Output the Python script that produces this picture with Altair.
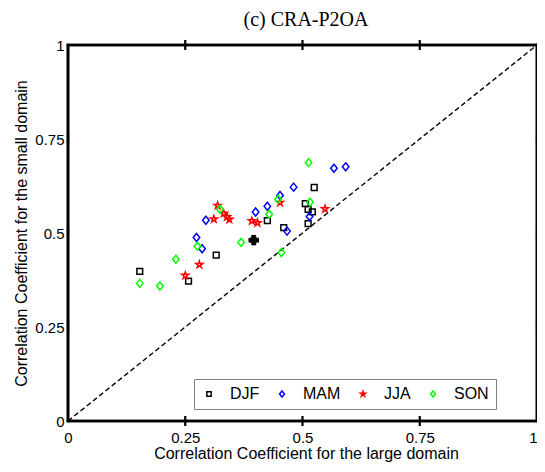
import altair as alt
import pandas as pd

seasons = ["DJF", "MAM", "JJA", "SON"]
colors = ["#000000", "#0000FF", "#FF0000", "#00FF00"]

djf_x = [0.153, 0.257, 0.316, 0.425, 0.525, 0.506, 0.512, 0.521, 0.512, 0.460]
djf_y = [0.398, 0.372, 0.441, 0.533, 0.621, 0.578, 0.563, 0.556, 0.525, 0.514]
mam_x = [0.274, 0.286, 0.294, 0.400, 0.425, 0.452, 0.481, 0.567, 0.592, 0.515, 0.467]
mam_y = [0.488, 0.458, 0.534, 0.556, 0.571, 0.600, 0.622, 0.672, 0.676, 0.544, 0.505]
jja_x = [0.250, 0.280, 0.311, 0.319, 0.332, 0.339, 0.344, 0.392, 0.404, 0.452, 0.548]
jja_y = [0.387, 0.416, 0.537, 0.573, 0.552, 0.543, 0.536, 0.532, 0.527, 0.581, 0.564]
son_x = [0.153, 0.196, 0.230, 0.276, 0.324, 0.369, 0.429, 0.448, 0.513, 0.516, 0.455]
son_y = [0.366, 0.359, 0.430, 0.465, 0.563, 0.475, 0.550, 0.590, 0.687, 0.582, 0.448]

mean_x = [0.396]
mean_y = [0.481]

diag_x = [0, 1]
diag_y = [0, 1]

tick_values = [0, 0.25, 0.5, 0.75, 1]
inner_ticks = [0.25, 0.5, 0.75]

title_text = "(c) CRA-P2OA"

W, H = 469, 376

rows = []
for name, xs, ys in [("DJF", djf_x, djf_y), ("MAM", mam_x, mam_y),
                     ("JJA", jja_x, jja_y), ("SON", son_x, son_y)]:
    for a, b in zip(xs, ys):
        rows.append({"x": a, "y": b, "season": name})
df = pd.DataFrame(rows)

square = "M-0.72,-0.72L0.72,-0.72L0.72,0.72L-0.72,0.72Z"
diamond = "M0,-1L0.82,0L0,1L-0.82,0Z"
star = ("M0,-0.9L0.2,-0.28L0.86,-0.28L0.33,0.11L0.53,0.73L0,0.34"
        "L-0.53,0.73L-0.33,0.11L-0.86,-0.28L-0.2,-0.28Z")
plus = ("M-0.42,-1L0.42,-1L0.42,-0.42L1,-0.42L1,0.42L0.42,0.42L0.42,1"
        "L-0.42,1L-0.42,0.42L-1,0.42L-1,-0.42L-0.42,-0.42Z")

xscale = alt.Scale(domain=[0, 1], nice=False, zero=False)
yscale = alt.Scale(domain=[0, 1], nice=False, zero=False)

xaxis = alt.Axis(values=tick_values, labelExpr="'' + datum.value", domain=False,
                 ticks=False, grid=False, labelFont="Liberation Sans", labelFontSize=15,
                 labelColor="#000000", labelPadding=9, labelFlush=False,
                 labelAlign=alt.condition("datum.value == 1", alt.value("right"), alt.value("center")),
                 title="Correlation Coefficient for the large domain",
                 titleFont="Liberation Sans", titleFontSize=16, titleFontWeight="normal",
                 titleColor="#000000", titleX=238, titleY=37, titleBaseline="alphabetic",
                 titleAlign="center")
yaxis = alt.Axis(values=tick_values, labelExpr="'' + datum.value", domain=False,
                 ticks=False, grid=False, labelFont="Liberation Sans", labelFontSize=15,
                 labelColor="#000000", labelPadding=4, labelFlush=False,
                 title="Correlation Coefficient for the small domain",
                 titleFont="Liberation Sans", titleFontSize=16, titleFontWeight="normal",
                 titleColor="#000000", titleX=-42, titleY=H / 2, titleAngle=-90,
                 titleBaseline="alphabetic", titleAlign="center")

one = alt.Data(values=[{"k": 1}])

title = alt.Chart(one).mark_text(
    text=title_text, font="Liberation Serif", fontSize=20, color="black",
    align="center", baseline="alphabetic"
).encode(x=alt.value(238), y=alt.value(-19))

diag = alt.Chart(pd.DataFrame({"x": diag_x, "y": diag_y})).mark_line(
    color="black", strokeWidth=1.4, strokeDash=[5, 3]
).encode(x=alt.X("x:Q", scale=xscale, axis=xaxis), y=alt.Y("y:Q", scale=yscale, axis=yaxis))

leg = alt.Legend(orient="none", legendX=126, legendY=334,
                 direction="horizontal", columns=4, title=None,
                 labelFont="Liberation Sans", labelFontSize=16,
                 labelColor="#000000", symbolSize=36,
                 symbolStrokeWidth=1.5, labelOffset=13,
                 columnPadding=14, padding=7,
                 strokeColor="#808080", fillColor="#FFFFFF")

pts = alt.Chart(df).mark_point(filled=False, strokeWidth=1.5, size=64, opacity=1).encode(
    x=alt.X("x:Q", scale=xscale),
    y=alt.Y("y:Q", scale=yscale),
    color=alt.Color("season:N", scale=alt.Scale(domain=seasons, range=colors), legend=leg),
    shape=alt.Shape("season:N", scale=alt.Scale(domain=seasons,
                                                range=[square, diamond, star, diamond]),
                    legend=leg),
)

mean = alt.Chart(pd.DataFrame({"x": mean_x, "y": mean_y})).mark_point(
    shape=plus, filled=True, color="black", size=90, opacity=1, stroke="black", strokeWidth=1
).encode(x=alt.X("x:Q", scale=xscale), y=alt.Y("y:Q", scale=yscale))


def edge(xs, ys):
    return alt.Chart(pd.DataFrame({"ex": xs, "ey": ys})).mark_line(
        color="#000000", strokeWidth=2.6, strokeCap="square"
    ).encode(x=alt.X("ex:Q", scale=xscale), y=alt.Y("ey:Q", scale=yscale))


edge_top = edge([0, 1], [1, 1])
edge_left = edge([0, 0], [0, 1])
edge_bottom = edge([0, 1], [0, 0])
edge_right = edge([1, 1], [0, 1])

tdf = pd.DataFrame({"t": inner_ticks, "lo": [0, 0, 0], "hi": [1, 1, 1]})
tk = dict(color="#000000", thickness=2.2, size=10, opacity=1)
tick_bottom = alt.Chart(tdf).mark_tick(**tk).encode(
    x=alt.X("t:Q", scale=xscale), y=alt.Y("lo:Q", scale=yscale))
tick_top = alt.Chart(tdf).mark_tick(**tk).encode(
    x=alt.X("t:Q", scale=xscale), y=alt.Y("hi:Q", scale=yscale))
tick_left = alt.Chart(tdf).mark_tick(**tk).encode(
    y=alt.Y("t:Q", scale=yscale), x=alt.X("lo:Q", scale=xscale))
tick_right = alt.Chart(tdf).mark_tick(**tk).encode(
    y=alt.Y("t:Q", scale=yscale), x=alt.X("hi:Q", scale=xscale))

chart = alt.layer(diag, pts, mean,
                  tick_bottom, tick_top, tick_left, tick_right,
                  edge_top, edge_left, edge_bottom, edge_right, title).properties(
    width=W, height=H,
    background="white",
    autosize=alt.AutoSizeParams(type="none"),
    padding={"left": 60, "top": 37, "right": 0, "bottom": 42},
).configure_view(stroke="#000000", strokeWidth=2.6)

chart.save("out.html", embed_options={"renderer": "svg", "actions": False})
